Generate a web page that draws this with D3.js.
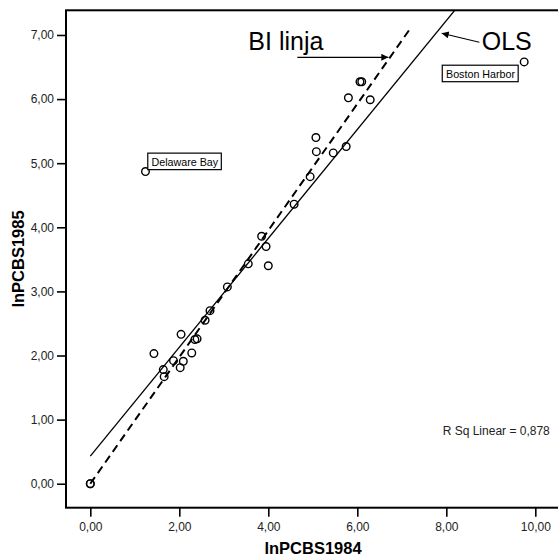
<!DOCTYPE html>
<html><head><meta charset="utf-8">
<script src="https://cdn.jsdelivr.net/npm/d3@7/dist/d3.min.js"></script>
<style>
body{margin:0;background:#fff;}
svg{display:block;font-family:"Liberation Sans",Arial,sans-serif;}
</style></head>
<body><svg id="c" width="558" height="556"></svg>
<script>
// ---- data ----
const x1984 = [0,0,1.24,9.75,6.06,6.10,5.80,6.29,5.07,5.08,5.46,5.75,4.94,4.58,3.85,3.95,3.55,4.00,3.08,2.69,2.58,2.04,2.35,2.40,2.28,1.43,1.87,2.09,2.02,1.64,1.66];
const y1985 = [0,0,4.87,6.58,6.27,6.27,6.02,5.99,5.40,5.18,5.16,5.26,4.79,4.36,3.86,3.70,3.43,3.40,3.07,2.70,2.55,2.33,2.25,2.26,2.04,2.03,1.92,1.91,1.81,1.78,1.67];
const caseLabels = [
  {name:"Delaware Bay", x:1.24, y:4.87, side:"upright"},
  {name:"Boston Harbor", x:9.75, y:6.58, side:"downleft"}
];
const xTicks = [0,2,4,6,8,10];
const yTicks = [0,1,2,3,4,5,6,7];
const olsLine = [[0,0.43],[9.75,8.71]];
const biLine = [[0,0],[7.21,7.12]];
const rsqText = "R Sq Linear = 0,878";
const xTitle = "lnPCBS1984", yTitle = "lnPCBS1985";
const fmt = v => d3.format(".2f")(v).replace(".", ",");

// ---- layout ----
const L=66, T=10.3, R=560, B=507.7;
const x = d3.scaleLinear().domain([-0.546,10.555]).range([L,R]);
const y = d3.scaleLinear().domain([-0.374,7.385]).range([B,T]);
const svg = d3.select("#c");

const defs = svg.append("defs");
defs.append("clipPath").attr("id","clip").append("rect").attr("x",L).attr("y",T).attr("width",R-L).attr("height",B-T);
defs.append("marker").attr("id","ah").attr("viewBox","0 0 10 10").attr("refX",10).attr("refY",5)
  .attr("markerWidth",9).attr("markerHeight",7).attr("markerUnits","userSpaceOnUse").attr("orient","auto")
  .append("path").attr("d","M0,0L10,5L0,10z").attr("fill","#000");

// axes
const xa = svg.append("g").attr("transform",`translate(0,${B})`)
  .call(d3.axisBottom(x).tickValues(xTicks).tickFormat(fmt).tickSize(9).tickPadding(6).tickSizeOuter(0));
const ya = svg.append("g").attr("transform",`translate(${L},0)`)
  .call(d3.axisLeft(y).tickValues(yTicks).tickFormat(fmt).tickSize(9).tickPadding(3).tickSizeOuter(0));
[xa,ya].forEach(g=>{
  g.select(".domain").remove();
  g.selectAll("line").attr("stroke","#000").attr("stroke-width",1.6);
  g.selectAll("text").attr("font-size",12).attr("fill","#222").attr("font-family","Liberation Sans,Arial,sans-serif");
});
// frame
svg.append("rect").attr("x",L).attr("y",T).attr("width",R-L).attr("height",B-T)
  .attr("fill","none").attr("stroke","#000").attr("stroke-width",2);

// axis titles
svg.append("text").attr("x",(L+R)/2).attr("y",553.5).attr("text-anchor","middle")
  .attr("font-size",16.5).attr("font-weight","bold").text(xTitle);
svg.append("text").attr("transform",`translate(23.5,${(T+B)/2}) rotate(-90)`).attr("text-anchor","middle")
  .attr("font-size",16.5).attr("font-weight","bold").text(yTitle);

const plot = svg.append("g").attr("clip-path","url(#clip)");
const ln = d3.line().x(d=>x(d[0])).y(d=>y(d[1]));
plot.append("path").attr("d",ln(olsLine)).attr("fill","none").attr("stroke","#000").attr("stroke-width",1.3);
plot.append("path").attr("d",ln(biLine)).attr("fill","none").attr("stroke","#000").attr("stroke-width",2)
  .attr("stroke-dasharray","8,5");

// points
plot.selectAll("circle").data(x1984.map((v,i)=>[v,y1985[i]])).join("circle")
  .attr("cx",d=>x(d[0])).attr("cy",d=>y(d[1])).attr("r",3.8)
  .attr("fill","none").attr("stroke","#000").attr("stroke-width",1.4);

// case labels
caseLabels.forEach(c=>{
  const px=x(c.x), py=y(c.y);
  const g = svg.append("g");
  const t = g.append("text").attr("font-size",10.7).attr("fill","#000").text(c.name);
  const w = t.node().getComputedTextLength();
  let bx, by;
  if(c.side==="upright"){ bx=px+2.3; by=py-18.4; }
  else { bx=px-6-(w+7); by=py+3.3; }
  g.insert("rect","text").attr("x",bx).attr("y",by).attr("width",w+7).attr("height",16.5)
    .attr("fill","#fff").attr("stroke","#000").attr("stroke-width",1.2);
  t.attr("x",bx+3.8).attr("y",by+12.5);
});

// annotations
svg.append("text").attr("x",x(3.551)).attr("y",y(6.766)).attr("font-size",25).text("BI linja");
svg.append("line").attr("x1",x(4.652)).attr("y1",y(6.652)).attr("x2",x(6.697)).attr("y2",y(6.652))
  .attr("stroke","#000").attr("stroke-width",1.2).attr("marker-end","url(#ah)");
svg.append("text").attr("x",x(8.796)).attr("y",y(6.766)).attr("font-size",25).text("OLS");
svg.append("line").attr("x1",x(8.742)).attr("y1",y(6.886)).attr("x2",x(7.897)).attr("y2",y(7.027))
  .attr("stroke","#000").attr("stroke-width",1.2).attr("marker-end","url(#ah)");
svg.append("text").attr("x",x(7.919)).attr("y",y(0.76)).attr("font-size",12).attr("fill","#222").text(rsqText);
</script></body></html>
